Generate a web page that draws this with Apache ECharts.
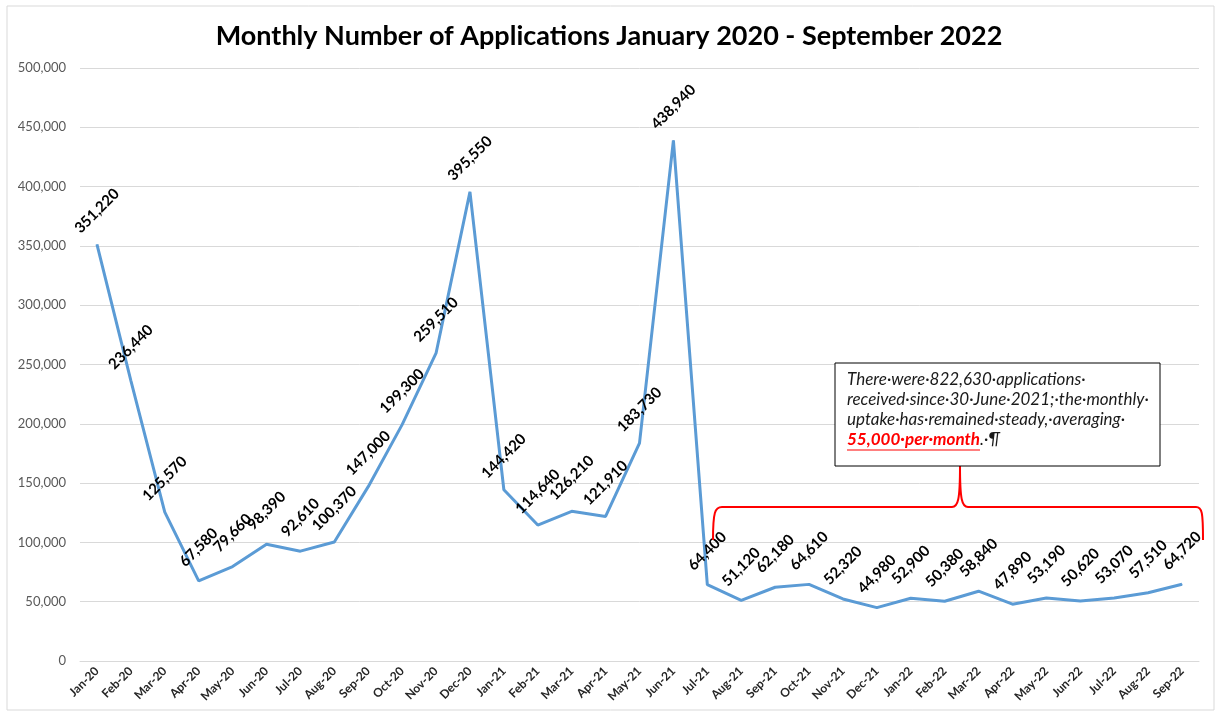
<!DOCTYPE html>
<html>
<head>
<meta charset="utf-8">
<script src="https://cdn.jsdelivr.net/npm/echarts@6/dist/echarts.min.js"></script>
<style>
  html, body { margin: 0; padding: 0; background: #fff; }
  #chart { width: 1218px; height: 718px; }
</style>
</head>
<body>
<div id="chart"></div>
<script>
// months shown on the x axis
const months = [
  'Jan-20', 'Feb-20', 'Mar-20', 'Apr-20', 'May-20', 'Jun-20', 'Jul-20', 'Aug-20', 'Sep-20', 'Oct-20', 'Nov-20', 'Dec-20',
  'Jan-21', 'Feb-21', 'Mar-21', 'Apr-21', 'May-21', 'Jun-21', 'Jul-21', 'Aug-21', 'Sep-21', 'Oct-21', 'Nov-21', 'Dec-21',
  'Jan-22', 'Feb-22', 'Mar-22', 'Apr-22', 'May-22', 'Jun-22', 'Jul-22', 'Aug-22', 'Sep-22'
]
// number of applications per month
const applications = [
  351220, 236440, 125570, 67580, 79660, 98390, 92610, 100370, 147000, 199300, 259510, 395550,
  144420, 114640, 126210, 121910, 183730, 438940, 64400, 51120, 62180, 64610, 52320, 44980,
  52900, 50380, 58840, 47890, 53190, 50620, 53070, 57510, 64720
]
const yTicks = { min: 0, max: 500000, step: 50000 }
const titleText = 'Monthly Number of Applications January 2020 - September 2022'

const fmt = v => v.toLocaleString('en-US')

const red = '#ff0000'
function curve (x1, y1, cpx1, cpy1, cpx2, cpy2, x2, y2) {
  return {
    type: 'bezierCurve',
    shape: { x1, y1, cpx1, cpy1, cpx2, cpy2, x2, y2 },
    style: { fill: 'none', stroke: red, lineWidth: 2 },
    z: 10
  }
}
function seg (x1, y1, x2, y2, w) {
  return {
    type: 'line',
    shape: { x1, y1, x2, y2 },
    style: { stroke: red, lineWidth: w || 2 },
    z: 10
  }
}

let chart = echarts.init(document.getElementById('chart'))
let option = {
  animation: false,
  backgroundColor: '#fff',
  textStyle: { fontFamily: 'Lato, "Open Sans", sans-serif' },
  title: {
    text: titleText,
    left: 'center',
    top: 18,
    textStyle: { fontSize: 27, fontWeight: 'bold', color: '#000', fontFamily: 'Lato, sans-serif' }
  },
  grid: { left: 80, right: 19, top: 68, bottom: 57 },
  xAxis: {
    type: 'category',
    data: months,
    boundaryGap: true,
    axisLine: { show: true, lineStyle: { color: '#d9d9d9' } },
    axisTick: { show: false },
    axisLabel: {
      interval: 0,
      rotate: 45,
      fontSize: 12,
      fontWeight: 'bold',
      color: '#262626',
      margin: 8
    }
  },
  yAxis: {
    type: 'value',
    min: yTicks.min,
    max: yTicks.max,
    interval: yTicks.step,
    axisLine: { show: false },
    axisTick: { show: false },
    splitLine: { lineStyle: { color: '#d9d9d9', width: 1 } },
    axisLabel: {
      formatter: v => fmt(v),
      fontSize: 13,
      color: '#595959',
      margin: 14
    }
  },
  series: [{
    name: 'Applications',
    type: 'line',
    data: applications,
    symbol: 'circle',
    symbolSize: 1,
    showSymbol: true,
    showAllSymbol: true,
    itemStyle: { color: '#5b9bd5' },
    lineStyle: { color: '#5b9bd5', width: 3 },
    label: {
      show: true,
      position: 'top',
      distance: 33,
      rotate: 45,
      align: 'center',
      verticalAlign: 'middle',
      formatter: p => fmt(p.value),
      fontSize: 15,
      fontWeight: 'bold',
      color: '#000'
    },
    labelLayout: { hideOverlap: false },
    z: 3
  }],
  graphic: [
    {
      // outer chart border
      type: 'rect',
      shape: { x: 7, y: 6, width: 1207, height: 704 },
      style: { fill: 'none', stroke: '#d9d9d9', lineWidth: 1 },
      silent: true
    },
    // red curly bracket
    curve(713, 540, 713, 512, 715, 507, 722, 507),
    seg(722, 507, 952, 507),
    curve(952, 507, 958, 507, 960, 500, 960, 466),
    curve(960, 466, 960, 500, 962, 507, 968, 507),
    seg(968, 507, 1196, 507),
    curve(1196, 507, 1202, 507, 1203, 512, 1203, 540),
    {
      type: 'rect',
      shape: { x: 835, y: 363, width: 325, height: 103 },
      style: { fill: '#fff', stroke: '#000', lineWidth: 1 },
      z: 10
    },
    {
      type: 'text',
      left: 847,
      top: 370,
      z: 11,
      style: {
        text: 'There·were·822,630·applications·\nreceived·since·30·June·2021;·the·monthly·\nuptake·has·remained·steady,·averaging·\n{red|55,000·per·month}.·¶',
        font: 'italic 17px Lato, "Open Sans", sans-serif',
        fill: '#1a1a1a',
        lineHeight: 20,
        rich: {
          red: {
            fill: red,
            font: 'italic bold 17px Lato, "Open Sans", sans-serif',
            lineHeight: 20
          }
        }
      }
    },
    seg(847, 450, 980, 450, 1.2)
  ]
}
chart.setOption(option)
</script>
</body>
</html>
